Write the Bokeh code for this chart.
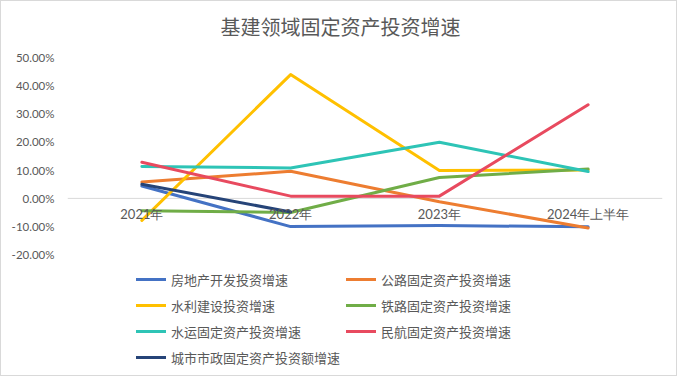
from bokeh.plotting import figure
from bokeh.models import Range1d, FixedTicker, NumeralTickFormatter, Span, Legend, LegendItem, Label
from bokeh.core.properties import value
from bokeh.embed import file_html
from bokeh.resources import INLINE

title_text = "基建领域固定资产投资增速"
categories = ["2021年", "2022年", "2023年", "2024年上半年"]

real_estate = [0.044, -0.100, -0.096, -0.101]
highway = [0.058, 0.096, -0.012, -0.105]
water_conservancy = [-0.078, 0.439, 0.099, 0.101]
railway = [-0.044, -0.050, 0.074, 0.104]
waterway = [0.113, 0.108, 0.199, 0.095]
aviation = [0.128, 0.008, 0.008, 0.332]
municipal = [0.050, -0.048]          # 2021, 2022 only

names = ["房地产开发投资增速", "公路固定资产投资增速", "水利建设投资增速",
         "铁路固定资产投资增速", "水运固定资产投资增速", "民航固定资产投资增速",
         "城市市政固定资产投资额增速"]
colors = ["#4472C4", "#ED7D31", "#FFC000", "#70AD47", "#2EC4B6", "#E84A5F", "#264478"]
series = [real_estate, highway, water_conservancy, railway, waterway, aviation, municipal]

y_ticks = [-0.2, -0.1, 0.0, 0.1, 0.2, 0.3, 0.4, 0.5]

GRAY = "#595959"

# the frame spans the full height (title above, legend below); only -20%..50% is labelled
p = figure(x_range=categories, y_range=Range1d(-0.635, 0.698), width=677, height=376,
           output_backend="svg", toolbar_location=None,
           min_border_left=66, min_border_right=16, min_border_top=0, min_border_bottom=0)
p.title.visible = False
p.styles = {"border": "1px solid #D9D9D9"}
p.outline_line_color = None
p.xgrid.visible = False
p.ygrid.visible = False
p.xaxis.visible = False

p.yaxis.ticker = FixedTicker(ticks=y_ticks)
p.yaxis.formatter = NumeralTickFormatter(format="0.00%")
p.yaxis.axis_line_color = None
p.yaxis.major_tick_line_color = None
p.yaxis.minor_tick_line_color = None
p.yaxis.major_label_standoff = 7
p.yaxis.major_label_text_font = "Lato"
p.yaxis.major_label_text_font_size = "11.5px"
p.yaxis.major_label_text_color = GRAY

p.add_layout(Label(x=273, y=351, x_units="screen", y_units="screen", text=title_text,
                   text_align="center", text_baseline="middle", text_font="Noto Sans CJK SC",
                   text_font_size="20px", text_color=GRAY))

p.add_layout(Span(location=0, dimension="width", line_color="#D9D9D9", line_width=1, level="underlay"))

renderers = []
for name, col, vals in zip(names, colors, series):
    r = p.line(categories[:len(vals)], vals, line_color=col, line_width=3,
               line_join="round", line_cap="round")
    renderers.append(r)

label_y = [0.0] * len(categories)
p.text(x=categories, y=label_y, text=categories, text_align="center", text_baseline="middle",
       y_offset=16, text_font=value("Lato"), text_font_size="13px", text_color=GRAY)

order = [0, 2, 4, 6, 1, 3, 5]
items = [LegendItem(label=names[i], renderers=[renderers[i]]) for i in order]
legend = Legend(items=items, location=(69, 10), nrows=4,
                glyph_width=30, glyph_height=20, label_height=20, label_standoff=5,
                spacing=6, padding=0, margin=0, border_line_color=None,
                background_fill_alpha=0, label_text_font_size="13px",
                label_text_color=GRAY, label_text_font="Noto Sans CJK SC")
p.add_layout(legend, "center")

open("out.html", "w").write(file_html(p, INLINE))
